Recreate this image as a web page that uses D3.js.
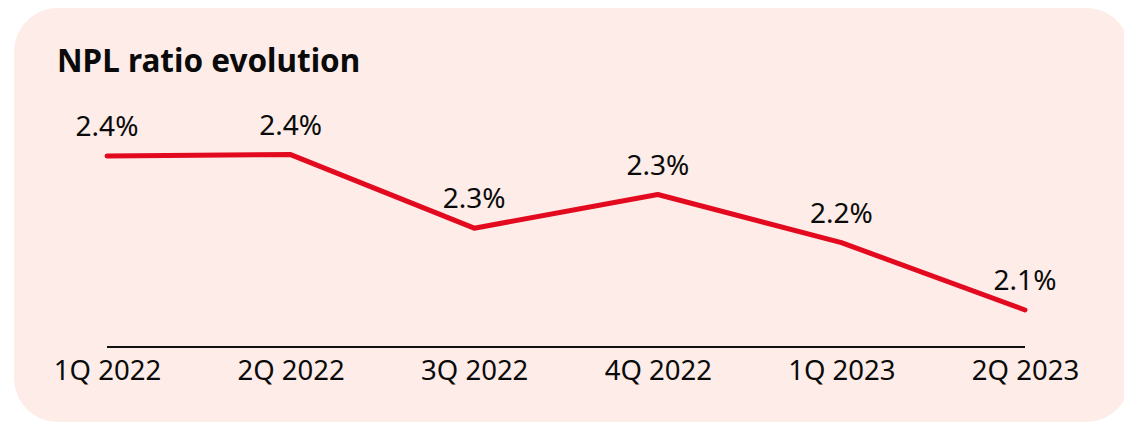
<!DOCTYPE html>
<html>
<head>
<meta charset="utf-8">
<script src="https://cdn.jsdelivr.net/npm/d3@7"></script>
<style>
  html, body { margin: 0; padding: 0; background: #fff; }
  svg { display: block; font-family: "Noto Sans", sans-serif; }
</style>
</head>
<body>
<svg id="chart" width="1124" height="427"></svg>
<script>
// ------------ DATA -----------------
const quarters = ["1Q 2022", "2Q 2022", "3Q 2022", "4Q 2022", "1Q 2023", "2Q 2023"];
const nplRatio = [2.41, 2.413, 2.26, 2.33, 2.23, 2.09];
const valueLabels = ["2.4%", "2.4%", "2.3%", "2.3%", "2.2%", "2.1%"];

const data = quarters.map((q, i) => ({ q, v: nplRatio[i], label: valueLabels[i] }));

// ------------ SETUP -----------------
const svg = d3.select("#chart");

svg.append("rect")
  .attr("x", 14).attr("y", 8)
  .attr("width", 1116).attr("height", 414)
  .attr("rx", 44)
  .attr("fill", "#fdece7");

svg.append("text")
  .attr("x", 57).attr("y", 72)
  .attr("font-size", 31.5)
  .attr("font-weight", 700)
  .attr("fill", "#0a0a0a")
  .text("NPL ratio evolution");

const x = d3.scalePoint()
  .domain(quarters)
  .range([107, 1025]);

const y = d3.scaleLinear()
  .domain([2.09, 2.41])
  .range([310, 156]);

const axisY = 347;

// ------------ AXIS -----------------
const xAxis = svg.append("g")
  .attr("transform", `translate(0,${axisY})`)
  .call(d3.axisBottom(x).tickSize(0).tickPadding(13));

xAxis.select(".domain")
  .attr("d", `M${x.range()[0]},0H${x.range()[1]}`)
  .attr("stroke", "#111")
  .attr("stroke-width", 2);

xAxis.selectAll("text")
  .attr("font-size", 27.5)
  .attr("font-family", "Noto Sans, sans-serif")
  .attr("fill", "#0a0a0a");

// ------------ LINE -----------------
const line = d3.line()
  .x(d => x(d.q))
  .y(d => y(d.v));

svg.append("path")
  .datum(data)
  .attr("d", line)
  .attr("fill", "none")
  .attr("stroke", "#e30a20")
  .attr("stroke-width", 5)
  .attr("stroke-linecap", "round")
  .attr("stroke-linejoin", "round");

svg.selectAll(".val")
  .data(data)
  .enter()
  .append("text")
  .attr("class", "val")
  .attr("x", d => x(d.q))
  .attr("y", d => y(d.v) - 20)
  .attr("text-anchor", "middle")
  .attr("font-size", 28)
  .attr("fill", "#0a0a0a")
  .text(d => d.label);
</script>
</body>
</html>
